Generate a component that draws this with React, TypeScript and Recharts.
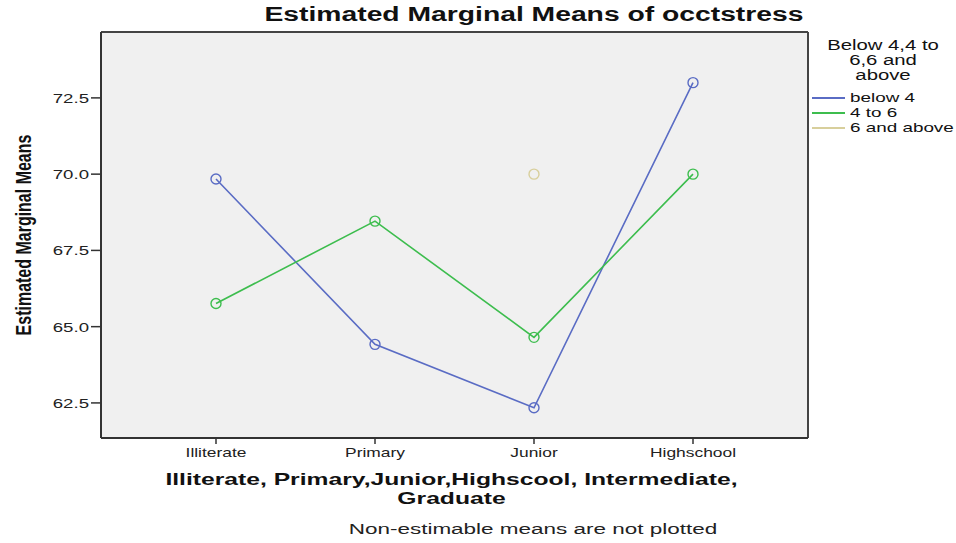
import { LineChart, Line, XAxis, YAxis, CartesianGrid } from "recharts"

const categories = ["Illiterate", "Primary", "Junior", "Highschool"]
const below4 = [69.84, 64.42, 62.34, 73.0]
const from4to6 = [65.76, 68.46, 64.65, 70.0]
const sixAbove: (number | null)[] = [null, null, 70.0, null]
const yTicks = [62.5, 65.0, 67.5, 70.0, 72.5]

const series = [
  { key: "below4", name: "below 4", color: "#5a6cc4" },
  { key: "from4to6", name: "4 to 6", color: "#3dbd4e" },
  { key: "sixAbove", name: "6 and above", color: "#d8cf9c" },
]

const data = categories.map((c, i) => ({
  level: c,
  below4: below4[i],
  from4to6: from4to6[i],
  sixAbove: sixAbove[i],
}))

const font = "'Liberation Sans', Arial, sans-serif"
// the original image is stretched sideways, so all text is widened
const SX = 1.45

function XTick(props: any) {
  const { x, y, payload } = props
  return (
    <g transform={`translate(${x},${y})`}>
      <text dy={11} textAnchor="middle" transform={`scale(${SX},1)`} fontSize={12} fill="#222" fontFamily={font}>
        {payload.value}
      </text>
    </g>
  )
}

function YTick(props: any) {
  const { x, y, payload } = props
  return (
    <g transform={`translate(${x},${y})`}>
      <text dy={5} textAnchor="end" transform={`scale(1.38,1)`} fontSize={13.5} fill="#222" fontFamily={font}>
        {Number(payload.value).toFixed(1)}
      </text>
    </g>
  )
}

function YLabel(props: any) {
  const { viewBox } = props
  const cy = viewBox.y + viewBox.height / 2
  return (
    <g transform={`translate(31,${cy}) scale(1.4,1) rotate(-90)`}>
      <text textAnchor="middle" fontSize={16} fontWeight="bold" fill="#111" fontFamily={font}>
        Estimated Marginal Means
      </text>
    </g>
  )
}

const wide = (w: number, extra: React.CSSProperties): React.CSSProperties => ({
  position: "absolute",
  left: 0,
  width: w,
  textAlign: "center",
  whiteSpace: "nowrap",
  transform: `scaleX(${SX})`,
  transformOrigin: "center",
  ...extra,
})

export default function App() {
  return (
    <div style={{ position: "absolute", left: 0, top: 0, width: 956, height: 543, background: "#fff", fontFamily: font, color: "#111" }}>
      <div style={wide(1068, { top: 3, fontWeight: "bold", fontSize: 19.5 })}>Estimated Marginal Means of occtstress</div>
      <LineChart width={956} height={543} data={data} margin={{ top: 32, right: 148, bottom: 75, left: 41 }}>
        <CartesianGrid
          fill="#f0f0f0"
          stroke="#444"
          strokeWidth={2}
          horizontalCoordinatesGenerator={({ offset }: any) => [offset.top, offset.top + offset.height]}
          verticalCoordinatesGenerator={({ offset }: any) => [offset.left, offset.left + offset.width]}
        />
        <XAxis
          dataKey="level"
          padding={{ left: 115, right: 115 }}
          axisLine={{ stroke: "#333", strokeWidth: 2 }}
          tickLine={{ stroke: "#333", strokeWidth: 1.5 }}
          tickSize={6}
          tick={<XTick />}
          interval={0}
        />
        <YAxis
          width={60}
          domain={[61.35, 74.66]}
          ticks={yTicks}
          allowDataOverflow
          axisLine={{ stroke: "#333", strokeWidth: 2 }}
          tickLine={{ stroke: "#333", strokeWidth: 1.5 }}
          tickSize={10}
          tick={<YTick />}
          label={<YLabel />}
        />
        {series.map((s) => (
          <Line
            key={s.key}
            type="linear"
            dataKey={s.key}
            name={s.name}
            stroke={s.color}
            strokeWidth={1.6}
            dot={{ r: 5, stroke: s.color, strokeWidth: 1.4, fill: "none" }}
            activeDot={false}
            isAnimationActive={false}
          />
        ))}
      </LineChart>
      <div style={{ position: "absolute", left: 812, top: 38, width: 144, fontSize: 13 }}>
        <div style={{ position: "relative", height: 48 }}>
          <div style={wide(142, { left: 0, top: 0, fontSize: 14, lineHeight: "15px" })}>
            Below 4,4 to<br />6,6 and<br />above
          </div>
        </div>
        <div style={{ marginTop: 4 }}>
          {series.map((s) => (
            <div key={s.key} style={{ position: "relative", height: 15 }}>
              <div style={{ position: "absolute", left: 0, top: 7, width: 33, height: 2, background: s.color }} />
              <span style={{ position: "absolute", left: 38, top: 0, transform: `scaleX(${SX})`, transformOrigin: "left", whiteSpace: "nowrap", lineHeight: "15px" }}>
                {s.name}
              </span>
            </div>
          ))}
        </div>
      </div>
      <div style={wide(903, { top: 470, fontWeight: "bold", fontSize: 17, lineHeight: "19px" })}>
        Illiterate, Primary,Junior,Highscool, Intermediate,<br />Graduate
      </div>
      <div style={wide(1066, { top: 520, fontSize: 15.5, color: "#222" })}>Non-estimable means are not plotted</div>
    </div>
  )
}
